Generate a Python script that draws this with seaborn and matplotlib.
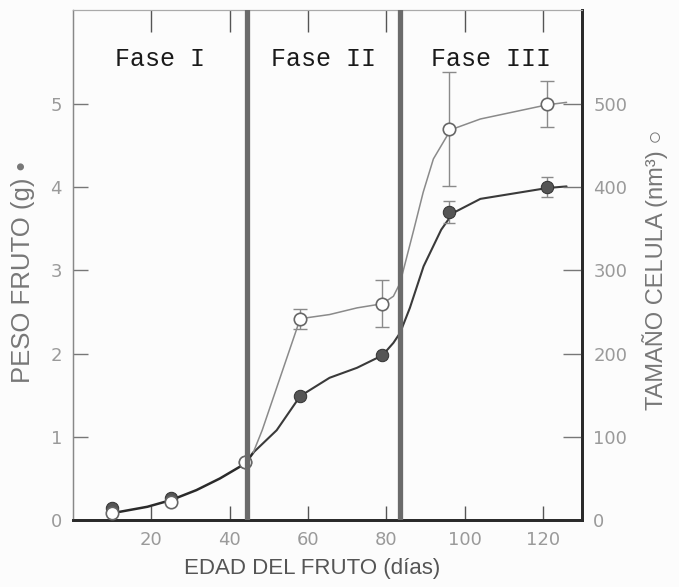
import matplotlib
matplotlib.use("Agg")
import matplotlib.pyplot as plt
import seaborn as sns

# measured points (days after anthesis)
days = [10, 25, 44, 58, 79, 96, 121]
peso = [0.14, 0.27, 0.70, 1.49, 1.98, 3.70, 4.00]          # g
peso_err = [0, 0, 0, 0, 0, 0.13, 0.12]
celula = [9, 22, 70, 242, 260, 470, 500]                  # nm3
celula_err = [0, 0, 0, 12, 28, 68, 28]

# hand-drawn curves
shared_x = [10, 12, 19, 25, 31.5, 37.5, 44, 46]
shared_y = [0.10, 0.10, 0.16, 0.24, 0.36, 0.50, 0.68, 0.81]
peso_curve_x = [46, 52, 58, 65.5, 72.5, 79, 81.8, 83.5, 86, 89.5, 94, 97, 104, 121, 126]
peso_curve_y = [0.81, 1.08, 1.49, 1.71, 1.83, 1.98, 2.13, 2.25, 2.55, 3.05, 3.49, 3.69, 3.86, 3.99, 4.01]
cel_curve_x = [46, 48.3, 58, 65.5, 72.5, 79, 81.8, 83.5, 87, 89.4, 92, 96.4, 104, 121, 126]
cel_curve_y = [81, 108, 242, 247, 255, 260, 269, 285, 349, 394, 434, 469, 482, 499, 502]

phase_edges = [44.5, 83.5]
phase_names = ["Fase I", "Fase II", "Fase III"]
x_ticks = [20, 40, 60, 80, 100, 120]
xlim = (0, 130)

sns.set_style("ticks")
plt.rcParams["font.family"] = ["DejaVu Sans"]

fig = plt.figure(figsize=(6.79, 5.87), dpi=100, facecolor="#fcfcfc")
ax = fig.add_axes([0.1075, 0.114, 0.75, 0.869])
ax.set_facecolor("#fcfcfc")
ax2 = ax.twinx()

dark = "#3a3a3a"
light = "#8a8a8a"

# curves
sns.lineplot(x=shared_x, y=shared_y, ax=ax, color="#2a2a2a", lw=1.8, sort=False, estimator=None)
sns.lineplot(x=peso_curve_x, y=peso_curve_y, ax=ax, color=dark, lw=1.5, sort=False, estimator=None)
sns.lineplot(x=cel_curve_x, y=cel_curve_y, ax=ax2, color=light, lw=1.1, sort=False, estimator=None)

# error bars
for d, v, e in zip(days, peso, peso_err):
    if e > 0:
        ax.errorbar(d, v, yerr=e, fmt="none", ecolor=light, elinewidth=1, capsize=4, capthick=1)
for d, v, e in zip(days, celula, celula_err):
    if e > 0:
        ax2.errorbar(d, v, yerr=e, fmt="none", ecolor=light, elinewidth=1, capsize=5, capthick=1)

# points
sns.scatterplot(x=days, y=peso, ax=ax, color="#555555", edgecolor="#333333", s=80, zorder=5)
sns.scatterplot(x=days, y=celula, ax=ax2, color="white", edgecolor="#666666", linewidth=1.2, s=80, zorder=5)

# phase boundaries
for xe in phase_edges:
    ax2.axvline(xe, color="#6b6b6b", lw=3.8, zorder=10)
bounds = [xlim[0]] + phase_edges + [xlim[1]]
for i, name in enumerate(phase_names):
    ax.text((bounds[i] + bounds[i + 1]) / 2, 5.54, name, ha="center", va="center",
            fontsize=18, family="Liberation Mono", color="#1a1a1a")

ax.set_xlim(*xlim)
ax.set_ylim(0, 6.13)
ax2.set_ylim(0, 613)
ax.set_xticks(x_ticks)
ax.set_yticks([0, 1, 2, 3, 4, 5])
ax2.set_yticks([0, 100, 200, 300, 400, 500])

tick_col = "#9a9a9a"
ax.tick_params(axis="x", direction="in", length=10, width=1, color="#555555",
               labelsize=13, labelcolor=tick_col, pad=8, top=True)
ax.tick_params(axis="y", direction="in", length=11, width=1, color="#777777",
               labelsize=13, labelcolor=tick_col, pad=8)
ax2.tick_params(axis="y", direction="in", length=14, width=1, color="#777777",
                labelsize=13, labelcolor=tick_col, pad=8)
# ticks hanging from the top frame are longer and lighter
for t in ax.xaxis.get_major_ticks():
    t.tick2line.set_markersize(16)
    t.tick2line.set_color("#777777")

for a in (ax, ax2):
    a.spines["left"].set_color("#888888")
    a.spines["left"].set_linewidth(0.9)
    a.spines["top"].set_color("#aaaaaa")
    a.spines["top"].set_linewidth(0.8)
    a.spines["bottom"].set_color("#2a2a2a")
    a.spines["bottom"].set_linewidth(2)
    a.spines["right"].set_color("#2a2a2a")
    a.spines["right"].set_linewidth(2)

lab_col = "#777777"
ax.set_xlabel("EDAD DEL FRUTO (días)", fontsize=16, family="Liberation Sans", color="#555555")
ax.xaxis.set_label_coords(0.47, -0.075)
ax.set_ylabel("PESO FRUTO (g) •", fontsize=18.5, family="Liberation Sans", color=lab_col)
ax.yaxis.set_label_coords(-0.074, 0.485)
ax2.set_ylabel("TAMAÑO CELULA (nm³) ○", fontsize=17, family="Liberation Sans", color=lab_col)
ax2.yaxis.set_label_coords(1.117, 0.49)

fig.savefig("out.png", dpi=100, facecolor=fig.get_facecolor())
